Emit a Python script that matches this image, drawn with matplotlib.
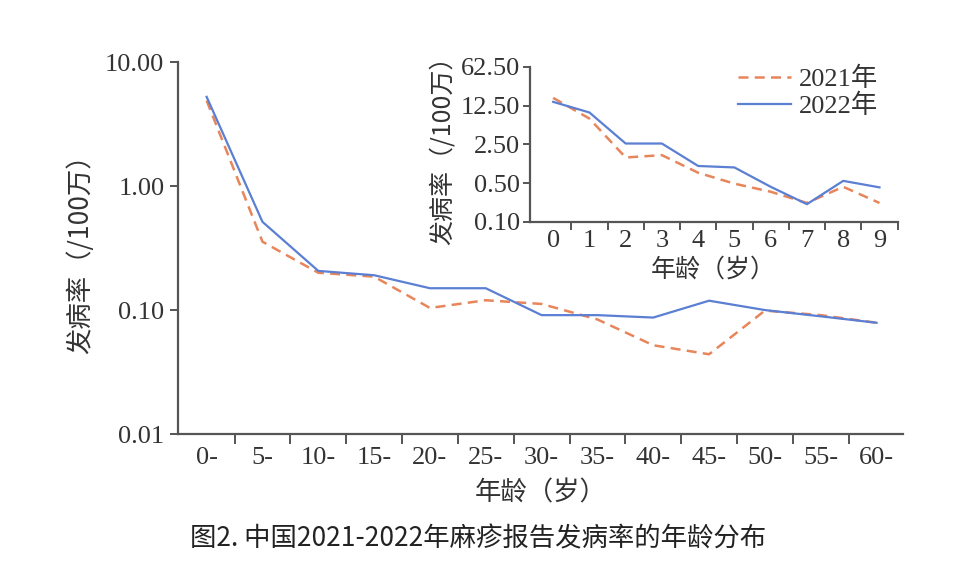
import matplotlib.pyplot as plt
import numpy as np
from matplotlib.ticker import FixedLocator, NullFormatter, NullLocator

plt.rcParams['font.family'] = ['Liberation Serif', 'Noto Sans CJK SC']

# main chart: incidence by age group (per million)
age_groups = ['0-', '5-', '10-', '15-', '20-', '25-', '30-', '35-', '40-', '45-', '50-', '55-', '60-']
rate_2021 = [4.9, 0.356, 0.200, 0.186, 0.104, 0.120, 0.112, 0.084, 0.052, 0.044, 0.099, 0.091, 0.079]
rate_2022 = [5.25, 0.515, 0.207, 0.191, 0.150, 0.150, 0.091, 0.091, 0.087, 0.119, 0.100, 0.089, 0.079]

# inset: single years 0-9
ages_inset = ['0', '1', '2', '3', '4', '5', '6', '7', '8', '9']
inset_2021 = [17.2, 7.3, 1.45, 1.6, 0.77, 0.49, 0.35, 0.22, 0.43, 0.22]
inset_2022 = [14.6, 9.4, 2.59, 2.59, 1.02, 0.96, 0.43, 0.209, 0.55, 0.42]

main_ticks = [0.01, 0.1, 1, 10]
inset_ticks = [0.1, 0.5, 2.5, 12.5, 62.5]

c21 = '#E8855A'
c22 = '#5B7FD3'
axis_c = '#555555'
text_c = '#333333'
cjk = ['Noto Sans CJK SC', 'DejaVu Sans']


def style_axes(ax):
    for s in ['top', 'right']:
        ax.spines[s].set_visible(False)
    for s in ['left', 'bottom']:
        ax.spines[s].set_color(axis_c)
        ax.spines[s].set_linewidth(1.6)
    ax.tick_params(which='both', direction='out', color=axis_c, width=1.4, labelcolor=text_c)


fig = plt.figure(figsize=(9.6, 5.81), dpi=100)

ax = fig.add_axes([0.185, 0.253, 0.756, 0.64])
x = np.arange(len(age_groups))
ax.plot(x, rate_2021, color=c21, lw=1.8, ls=(0, (4, 2.5)))
ax.plot(x, rate_2022, color=c22, lw=1.6)
ax.set_yscale('log')
ax.set_ylim(0.01, 10)
ax.set_xlim(-0.52, 12.48)
ax.yaxis.set_major_locator(FixedLocator(main_ticks))
ax.yaxis.set_minor_locator(NullLocator())
ax.set_yticks(main_ticks, ['%.2f' % v for v in main_ticks])
ax.set_xticks(x, age_groups)
ax.xaxis.set_minor_locator(FixedLocator(np.arange(0.5, 12.6, 1)))
ax.xaxis.set_minor_formatter(NullFormatter())
style_axes(ax)
ax.tick_params(axis='x', which='major', length=0, labelsize=19, pad=9)
ax.tick_params(axis='x', which='minor', length=7)
ax.tick_params(axis='y', length=6, labelsize=19)
ax.set_xlabel('年龄（岁）', family=cjk, fontsize=19, color=text_c, labelpad=8)
ax.set_ylabel('发病率（/100万）', family=cjk, fontsize=19, color=text_c, labelpad=8)

axi = fig.add_axes([0.552, 0.618, 0.383, 0.267])
xi = np.arange(len(ages_inset))
axi.plot(xi, inset_2021, color=c21, lw=1.8, ls=(0, (4, 2.5)), label='2021年')
axi.plot(xi, inset_2022, color=c22, lw=1.6, label='2022年')
axi.set_yscale('log')
axi.set_ylim(0.1, 62.5)
axi.set_xlim(-0.64, 9.5)
axi.yaxis.set_minor_locator(NullLocator())
axi.set_yticks(inset_ticks, ['%.2f' % v for v in inset_ticks])
axi.set_xticks(xi, ages_inset)
axi.xaxis.set_minor_locator(FixedLocator(np.arange(0.5, 9.6, 1)))
axi.xaxis.set_minor_formatter(NullFormatter())
style_axes(axi)
axi.tick_params(axis='x', which='major', length=0, labelsize=19, pad=6)
axi.tick_params(axis='x', which='minor', length=6)
axi.tick_params(axis='y', length=5, labelsize=19, pad=2)
axi.set_xlabel('年龄（岁）', family=cjk, fontsize=18, color=text_c, labelpad=3)
axi.set_ylabel('发病率（/100万）', family=cjk, fontsize=18, color=text_c, labelpad=4)
axi.legend(loc='upper right', frameon=False, fontsize=19, handlelength=2.0,
           labelspacing=0.1, borderpad=0.1, handletextpad=0.3, labelcolor=text_c,
           bbox_to_anchor=(0.99, 1.1))

fig.text(0.198, 0.072, '图2. 中国2021-2022年麻疹报告发病率的年龄分布', family=cjk,
         fontsize=19, color='#222222', va='center', ha='left')

fig.savefig('out.png', dpi=100, facecolor='white')
